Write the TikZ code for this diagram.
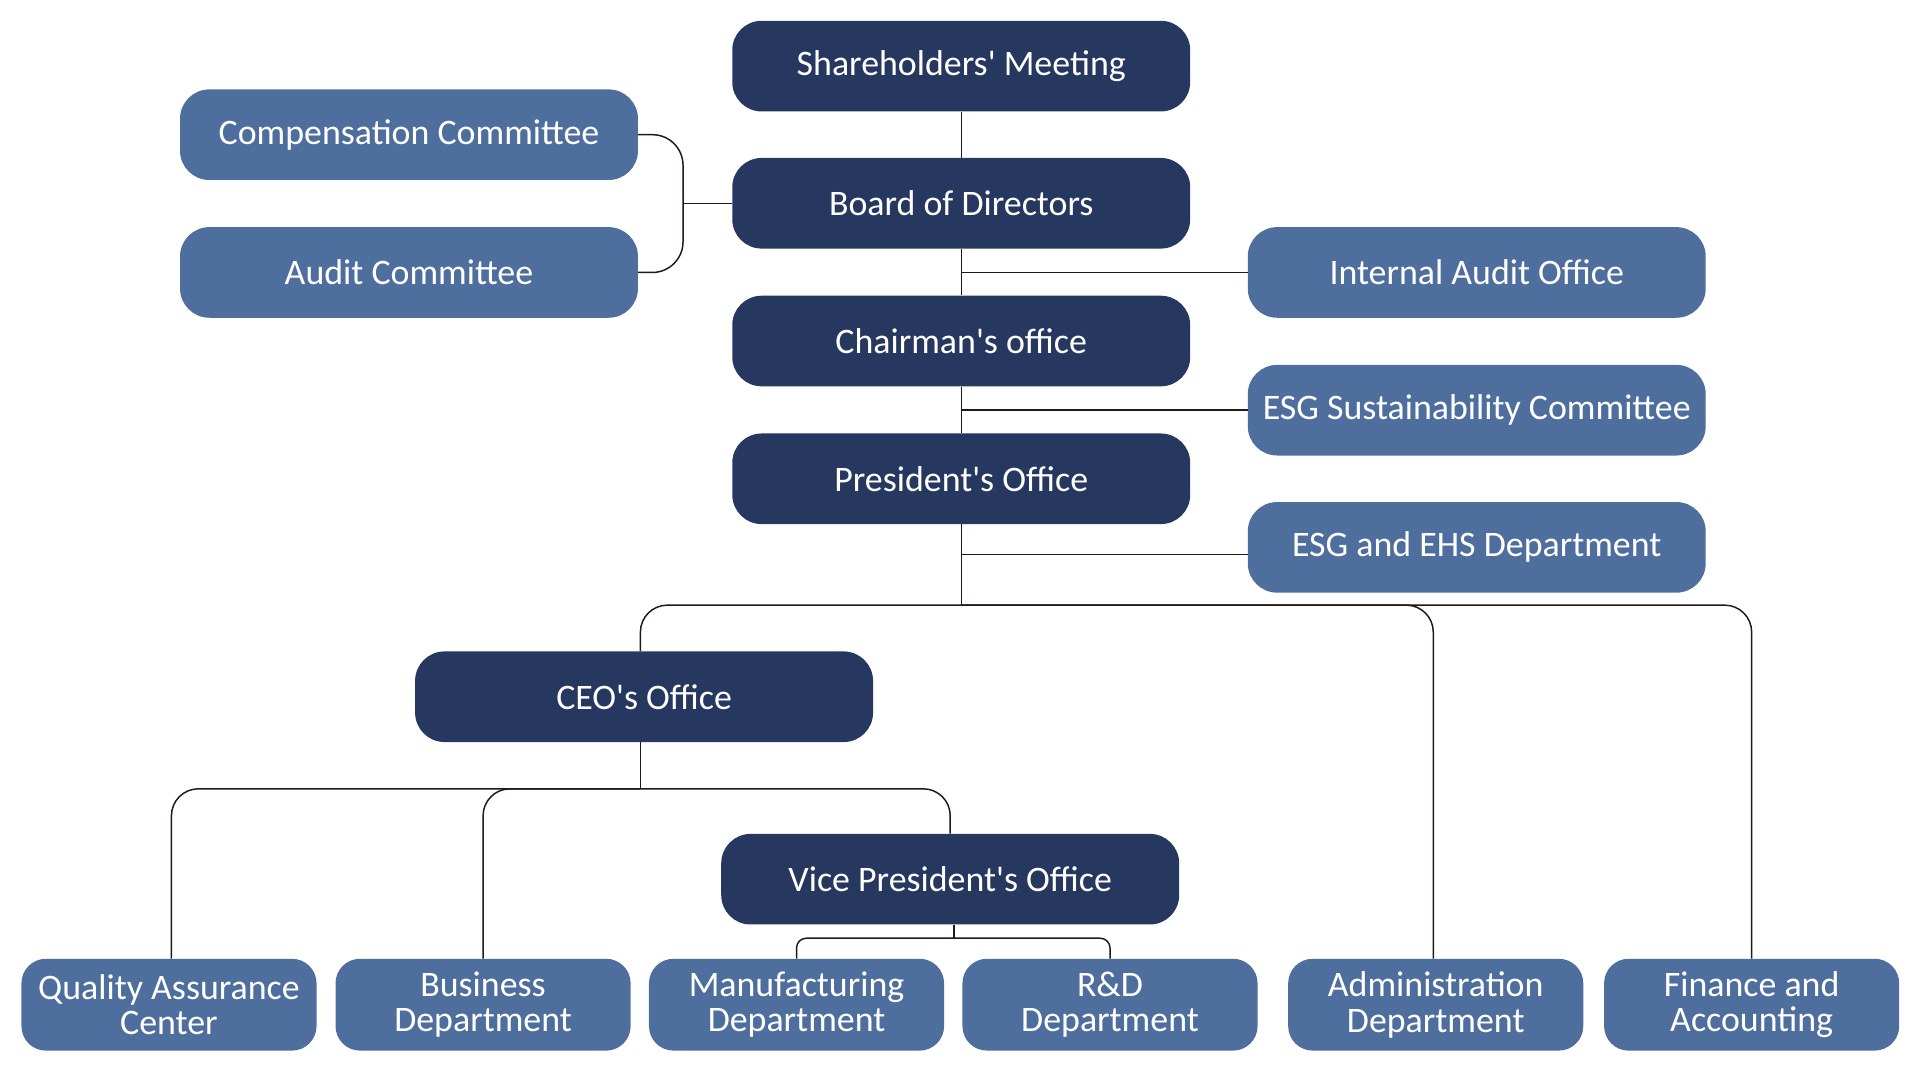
\documentclass[tikz,border=0pt]{standalone}
\usepackage{fontspec}
\setmainfont{Carlito}
\definecolor{navy}{HTML}{26385F}
\definecolor{steel}{HTML}{4E6E9E}
\definecolor{wire}{HTML}{231815}
\begin{document}
\begin{tikzpicture}[x=1pt,y=-1pt,
  topbox/.style={fill=navy,text=white,rounded corners=24pt,minimum width=374pt,minimum height=74pt,inner sep=0pt,font=\fontsize{29.3}{30}\selectfont},
  sidebox/.style={topbox,fill=steel},
  deptbox/.style={sidebox,minimum width=241pt,minimum height=75pt,rounded corners=20pt,align=center,font=\fontsize{29.3}{29}\selectfont},
  link/.style={draw=wire,line width=1.2pt}]
\useasboundingbox (0,0) rectangle (1568,882);
\node[topbox] (shm) at (785,54) {Shareholders\textquotesingle{} Meeting};
\node[topbox] (bod) at (785,166) {Board of Directors};
\node[topbox] (chair) at (785,278.5) {Chairman\textquotesingle s office};
\node[topbox] (pres) at (785,391) {President\textquotesingle s Office};
\node[topbox] (ceo) at (526,569) {CEO\textquotesingle s Office};
\node[topbox] (vp) at (776,718) {Vice President\textquotesingle s Office};
\node[sidebox] (comp) at (334,110) {Compensation Committee};
\node[sidebox] (audit) at (334,222.5) {Audit Committee};
\node[sidebox] (iao) at (1206,222.5) {Internal Audit Office};
\node[sidebox] (esgc) at (1206,335) {ESG Sustainability Committee};
\node[sidebox] (ehs) at (1206,447) {ESG and EHS Department};
\node[deptbox] (qa) at (138,820.5) {Quality Assurance\\Center};
\node[deptbox] (busdept) at (394.5,820.5) {Business\\Department};
\node[deptbox] (mfg) at (650.5,820.5) {Manufacturing\\Department};
\node[deptbox] (rd) at (906.5,820.5) {R\&D\\Department};
\node[deptbox] (adm) at (1172.5,820.5) {Administration\\Department};
\node[deptbox] (fin) at (1430.5,820.5) {Finance and\\Accounting};
\coordinate (lj) at ([xshift=-40pt]bod.west);
\coordinate (phub) at ([yshift=-66pt]pres.south);
\coordinate (chub) at ([xshift=-3pt,yshift=-38pt]ceo.south);
\coordinate (vhub) at ([xshift=3pt,yshift=-11pt]vp.south);
\draw[link] (shm.south) -- (bod.north);
\draw[link] (bod.south) -- (chair.north);
\draw[link] (chair.south) -- (pres.north);
\draw[link] (pres.south) -- (phub);
\draw[link] (bod.west) -- (lj);
\draw[link,rounded corners=25pt] (comp.east) -| (lj) |- (audit.east);
\draw[link] (iao.west) -- (iao.west -| bod.south);
\draw[link] (esgc.west) -- (esgc.west -| chair.south);
\draw[link] ([yshift=-6pt]ehs.west) -- ([yshift=-6pt]ehs.west -| pres.south);
\draw[link,rounded corners=22pt] (phub) -| ([xshift=-3pt]ceo.north);
\draw[link,rounded corners=22pt] (phub) -| ([xshift=-2pt]adm.north);
\draw[link,rounded corners=22pt] (phub) -| (fin.north);
\draw[link] ([xshift=-3pt]ceo.south) -- (chub);
\draw[link,rounded corners=22pt] (chub) -| ([xshift=2pt]qa.north);
\draw[link,rounded corners=22pt] (chub) -| (busdept.north);
\draw[link,rounded corners=22pt] (chub) -| (vp.north);
\draw[link] ([xshift=3pt]vp.south) -- (vhub);
\draw[link,rounded corners=8pt] (vhub) -| (mfg.north);
\draw[link,rounded corners=8pt] (vhub) -| (rd.north);
\end{tikzpicture}
\end{document}
